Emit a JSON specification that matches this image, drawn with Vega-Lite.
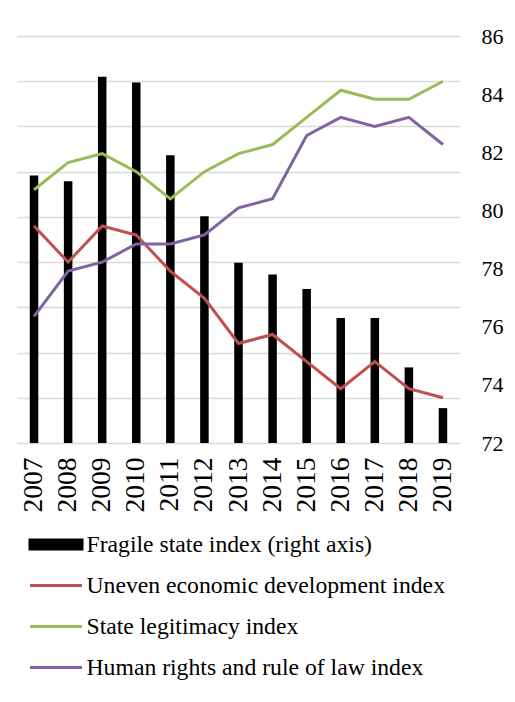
{
  "$schema": "https://vega.github.io/schema/vega-lite/v6.json",
  "width": 443,
  "height": 407,
  "autosize": {"type": "none"},
  "padding": {"left": 17, "top": 36, "right": 55, "bottom": 259},
  "background": "white",
  "config": {
    "view": {"stroke": null},
    "font": "Liberation Serif",
    "axis": {"labelFont": "Liberation Serif", "labelColor": "black", "title": null},
    "legend": {"labelFont": "Liberation Serif", "labelColor": "black"}
  },
  "data": {
    "values": [
      {"year": "2007", "series": "Fragile state index (right axis)", "value": 81.2},
      {"year": "2008", "series": "Fragile state index (right axis)", "value": 81.0},
      {"year": "2009", "series": "Fragile state index (right axis)", "value": 84.6},
      {"year": "2010", "series": "Fragile state index (right axis)", "value": 84.4},
      {"year": "2011", "series": "Fragile state index (right axis)", "value": 81.9},
      {"year": "2012", "series": "Fragile state index (right axis)", "value": 79.8},
      {"year": "2013", "series": "Fragile state index (right axis)", "value": 78.2},
      {"year": "2014", "series": "Fragile state index (right axis)", "value": 77.8},
      {"year": "2015", "series": "Fragile state index (right axis)", "value": 77.3},
      {"year": "2016", "series": "Fragile state index (right axis)", "value": 76.3},
      {"year": "2017", "series": "Fragile state index (right axis)", "value": 76.3},
      {"year": "2018", "series": "Fragile state index (right axis)", "value": 74.6},
      {"year": "2019", "series": "Fragile state index (right axis)", "value": 73.2},
      {"year": "2007", "series": "Uneven economic development index", "value": 6.9},
      {"year": "2008", "series": "Uneven economic development index", "value": 6.5},
      {"year": "2009", "series": "Uneven economic development index", "value": 6.9},
      {"year": "2010", "series": "Uneven economic development index", "value": 6.8},
      {"year": "2011", "series": "Uneven economic development index", "value": 6.4},
      {"year": "2012", "series": "Uneven economic development index", "value": 6.1},
      {"year": "2013", "series": "Uneven economic development index", "value": 5.6},
      {"year": "2014", "series": "Uneven economic development index", "value": 5.7},
      {"year": "2015", "series": "Uneven economic development index", "value": 5.4},
      {"year": "2016", "series": "Uneven economic development index", "value": 5.1},
      {"year": "2017", "series": "Uneven economic development index", "value": 5.4},
      {"year": "2018", "series": "Uneven economic development index", "value": 5.1},
      {"year": "2019", "series": "Uneven economic development index", "value": 5.0},
      {"year": "2007", "series": "State legitimacy index", "value": 7.3},
      {"year": "2008", "series": "State legitimacy index", "value": 7.6},
      {"year": "2009", "series": "State legitimacy index", "value": 7.7},
      {"year": "2010", "series": "State legitimacy index", "value": 7.5},
      {"year": "2011", "series": "State legitimacy index", "value": 7.2},
      {"year": "2012", "series": "State legitimacy index", "value": 7.5},
      {"year": "2013", "series": "State legitimacy index", "value": 7.7},
      {"year": "2014", "series": "State legitimacy index", "value": 7.8},
      {"year": "2015", "series": "State legitimacy index", "value": 8.1},
      {"year": "2016", "series": "State legitimacy index", "value": 8.4},
      {"year": "2017", "series": "State legitimacy index", "value": 8.3},
      {"year": "2018", "series": "State legitimacy index", "value": 8.3},
      {"year": "2019", "series": "State legitimacy index", "value": 8.5},
      {"year": "2007", "series": "Human rights and rule of law index", "value": 5.9},
      {"year": "2008", "series": "Human rights and rule of law index", "value": 6.4},
      {"year": "2009", "series": "Human rights and rule of law index", "value": 6.5},
      {"year": "2010", "series": "Human rights and rule of law index", "value": 6.7},
      {"year": "2011", "series": "Human rights and rule of law index", "value": 6.7},
      {"year": "2012", "series": "Human rights and rule of law index", "value": 6.8},
      {"year": "2013", "series": "Human rights and rule of law index", "value": 7.1},
      {"year": "2014", "series": "Human rights and rule of law index", "value": 7.2},
      {"year": "2015", "series": "Human rights and rule of law index", "value": 7.9},
      {"year": "2016", "series": "Human rights and rule of law index", "value": 8.1},
      {"year": "2017", "series": "Human rights and rule of law index", "value": 8.0},
      {"year": "2018", "series": "Human rights and rule of law index", "value": 8.1},
      {"year": "2019", "series": "Human rights and rule of law index", "value": 7.8}
    ]
  },
  "encoding": {
    "x": {
      "field": "year",
      "type": "ordinal",
      "scale": {"paddingInner": 0.75, "paddingOuter": 0.375},
      "axis": {
        "labelAngle": -90,
        "labelFontSize": 27.5,
        "labelPadding": 14,
        "ticks": false,
        "domain": false,
        "grid": false
      }
    },
    "color": {
      "field": "series",
      "type": "nominal",
      "scale": {
        "domain": ["Fragile state index (right axis)", "Uneven economic development index", "State legitimacy index", "Human rights and rule of law index"],
        "range": ["#000000", "#c0504d", "#9bbb59", "#8064a2"]
      },
      "legend": {
        "title": null,
        "orient": "none",
        "legendX": 11.5,
        "legendY": 481,
        "direction": "vertical",
        "padding": 0,
        "symbolType": "stroke",
        "symbolSize": 2704,
        "symbolStrokeWidth": 3,
        "labelFontSize": 23.7,
        "labelOffset": 3,
        "rowPadding": 1,
        "labelLimit": 500,
        "encode": {
          "symbols": {
            "update": {
              "shape": {"signal": "datum.value === 'Fragile state index (right axis)' ? 'M-1,-0.17H1V0.17H-1Z' : 'stroke'"},
              "fill": {"signal": "datum.value === 'Fragile state index (right axis)' ? '#000000' : 'transparent'"}
            }
          }
        }
      }
    }
  },
  "layer": [
    {
      "transform": [{"filter": "datum.series === 'Fragile state index (right axis)'"}],
      "mark": {"type": "bar"},
      "encoding": {
        "y": {
          "field": "value",
          "type": "quantitative",
          "scale": {"domain": [72, 86], "zero": false, "nice": false, "clamp": true},
          "axis": {
            "orient": "right",
            "values": [72, 74, 76, 78, 80, 82, 84, 86],
            "labelFontSize": 22,
            "labelPadding": 21,
            "ticks": false,
            "domain": false,
            "grid": false
          }
        }
      }
    },
    {
      "transform": [{"filter": "datum.series !== 'Fragile state index (right axis)'"}],
      "mark": {"type": "line", "strokeWidth": 3},
      "encoding": {
        "y": {
          "field": "value",
          "type": "quantitative",
          "scale": {"domain": [4.5, 9], "zero": false, "nice": false},
          "axis": {
            "orient": "left",
            "values": [4.5, 5, 5.5, 6, 6.5, 7, 7.5, 8, 8.5, 9],
            "labels": false,
            "ticks": false,
            "domain": false,
            "grid": true,
            "gridColor": "#d9d9d9",
            "gridWidth": 1.3
          }
        }
      }
    }
  ],
  "resolve": {"scale": {"y": "independent"}, "axis": {"y": "independent"}}
}
